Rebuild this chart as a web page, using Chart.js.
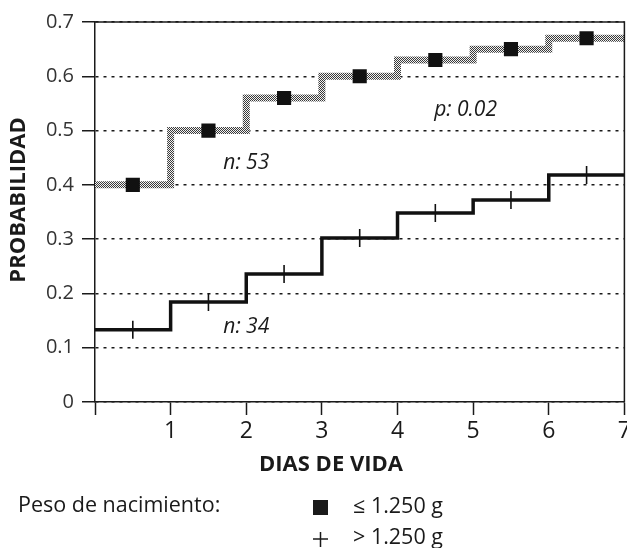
<!DOCTYPE html>
<html>
<head>
<meta charset="utf-8">
<script src="https://cdn.jsdelivr.net/npm/chart.js@4/dist/chart.umd.min.js"></script>
<style>
  html, body { margin: 0; padding: 0; background: #fff; overflow: hidden; }
  #wrap { width: 627px; height: 548px; overflow: hidden; }
  #chart { display: block; }
</style>
</head>
<body>
<div id="wrap">
<!-- canvas is a bit wider than the window so the "7" label is cut at the edge like the print -->
<canvas id="chart" width="635" height="548"></canvas>
</div>
<script>
// Data
const days = [0, 1, 2, 3, 4, 5, 6, 7];
const probLow = [0.40, 0.50, 0.56, 0.60, 0.63, 0.65, 0.67, 0.67];      // <= 1.250 g
const probHigh = [0.133, 0.184, 0.236, 0.302, 0.348, 0.372, 0.418, 0.418]; // > 1.250 g
const markDays = [0.5, 1.5, 2.5, 3.5, 4.5, 5.5, 6.5];
const markLow = [0.40, 0.50, 0.56, 0.60, 0.63, 0.65, 0.67];
const markHigh = [0.133, 0.184, 0.236, 0.302, 0.348, 0.372, 0.418];

const xTicks = [0, 1, 2, 3, 4, 5, 6, 7];
const xTickLabels = ['', '1', '2', '3', '4', '5', '6', '7'];
const yTicks = [0, 0.1, 0.2, 0.3, 0.4, 0.5, 0.6, 0.7];
const yTickLabels = ['0', '0.1', '0.2', '0.3', '0.4', '0.5', '0.6', '0.7'];

const FONT = '"Open Sans", "DejaVu Sans", sans-serif';
const INK = '#1a1a1a';

// dithered grey stroke for the upper curve
function ditherPattern() {
    const c = document.createElement('canvas');
    c.width = 2;
    c.height = 2;
    const g = c.getContext('2d');
    g.fillStyle = '#f2f2f2';
    g.fillRect(0, 0, 2, 2);
    g.fillStyle = '#3a3a3a';
    g.fillRect(0, 0, 1, 1);
    g.fillRect(1, 1, 1, 1);
    return g.createPattern(c, 'repeat');
}

const toPoints = (xs, ys) => xs.map((x, i) => ({ x: x, y: ys[i] }));

// Frame, axis titles, notes and legend
const extrasPlugin = {
    id: 'extras',
    afterDraw(chart) {
        const ctx = chart.ctx;
        const a = chart.chartArea;
        const xs = chart.scales.x;
        const ys = chart.scales.y;
        ctx.save();

        // top and right border
        ctx.strokeStyle = INK;
        ctx.lineWidth = 1.5;
        ctx.beginPath();
        ctx.moveTo(a.left, a.top);
        ctx.lineTo(a.right, a.top);
        ctx.lineTo(a.right, a.bottom);
        ctx.stroke();

        ctx.fillStyle = INK;
        ctx.textBaseline = 'middle';

        // notes inside the plot
        ctx.font = 'italic 21px ' + FONT;
        ctx.textAlign = 'center';
        ctx.fillText('n: 53', xs.getPixelForValue(2.0), ys.getPixelForValue(0.44));
        ctx.fillText('p: 0.02', xs.getPixelForValue(4.9), ys.getPixelForValue(0.538));
        ctx.fillText('n: 34', xs.getPixelForValue(2.0), ys.getPixelForValue(0.139));

        // axis titles
        ctx.font = 'bold 22px ' + FONT;
        ctx.fillText('DIAS DE VIDA', 331, 465);
        ctx.save();
        ctx.translate(19, 200);
        ctx.rotate(-Math.PI / 2);
        ctx.fillText('PROBABILIDAD', 0, 0);
        ctx.restore();

        // legend
        ctx.font = '21.5px ' + FONT;
        ctx.textAlign = 'left';
        ctx.fillText('Peso de nacimiento:', 18, 506);
        ctx.fillText('\u2264 1.250 g', 353, 507);
        ctx.fillText('> 1.250 g', 353, 538);
        ctx.fillRect(313, 500, 15, 15);
        ctx.lineWidth = 1.5;
        ctx.beginPath();
        ctx.moveTo(313, 539);
        ctx.lineTo(328, 539);
        ctx.moveTo(320.5, 532);
        ctx.lineTo(320.5, 547);
        ctx.stroke();

        ctx.restore();
    }
};

const ctx = document.getElementById('chart');

new Chart(ctx, {
    type: 'scatter',
    data: {
        datasets: [
            {
                label: '\u2264 1.250 g marks',
                data: toPoints(markDays, markLow),
                pointStyle: 'rect',
                pointRadius: 10,
                backgroundColor: '#111',
                borderColor: '#111',
                borderWidth: 0,
                showLine: false,
                order: 0
            },
            {
                label: '> 1.250 g marks',
                data: toPoints(markDays, markHigh),
                pointStyle: 'cross',
                pointRadius: 9,
                borderColor: '#111',
                borderWidth: 1.6,
                showLine: false,
                order: 0
            },
            {
                label: '\u2264 1.250 g',
                data: toPoints(days, probLow),
                showLine: true,
                stepped: 'before',
                borderColor: ditherPattern(),
                borderWidth: 7,
                pointRadius: 0,
                order: 1
            },
            {
                label: '> 1.250 g',
                data: toPoints(days, probHigh),
                showLine: true,
                stepped: 'before',
                borderColor: '#111',
                borderWidth: 3.5,
                pointRadius: 0,
                order: 1
            }
        ]
    },
    options: {
        responsive: false,
        animation: false,
        layout: { padding: { top: 22, right: 3, left: 0, bottom: 0 } },
        plugins: {
            legend: { display: false },
            tooltip: { enabled: false }
        },
        scales: {
            x: {
                type: 'linear',
                min: 0,
                max: 7,
                afterBuildTicks: (scale) => { scale.ticks = xTicks.map(v => ({ value: v })); },
                afterFit: (scale) => { scale.height = 146; },
                ticks: {
                    callback: (value, index) => xTickLabels[index],
                    color: INK,
                    font: { family: FONT, size: 23 },
                    padding: 3,
                    maxRotation: 0,
                    autoSkip: false
                },
                grid: {
                    drawOnChartArea: false,
                    drawTicks: true,
                    tickLength: 13,
                    tickColor: INK,
                    tickWidth: 1.5
                },
                border: { display: true, color: INK, width: 1.5 }
            },
            y: {
                type: 'linear',
                min: 0,
                max: 0.7,
                afterBuildTicks: (scale) => { scale.ticks = yTicks.map(v => ({ value: v })); },
                afterFit: (scale) => { scale.width = 95; },
                ticks: {
                    callback: (value, index) => yTickLabels[index],
                    color: '#333',
                    font: { family: FONT, size: 20 },
                    padding: 8,
                    autoSkip: false
                },
                grid: {
                    drawOnChartArea: true,
                    drawTicks: true,
                    tickLength: 13,
                    tickColor: INK,
                    tickWidth: 1.5,
                    tickBorderDash: [1, 0],
                    color: INK,
                    lineWidth: 1.5
                },
                border: { display: true, color: INK, width: 1.5, dash: [3, 5] }
            }
        }
    },
    plugins: [extrasPlugin]
});
</script>
</body>
</html>
